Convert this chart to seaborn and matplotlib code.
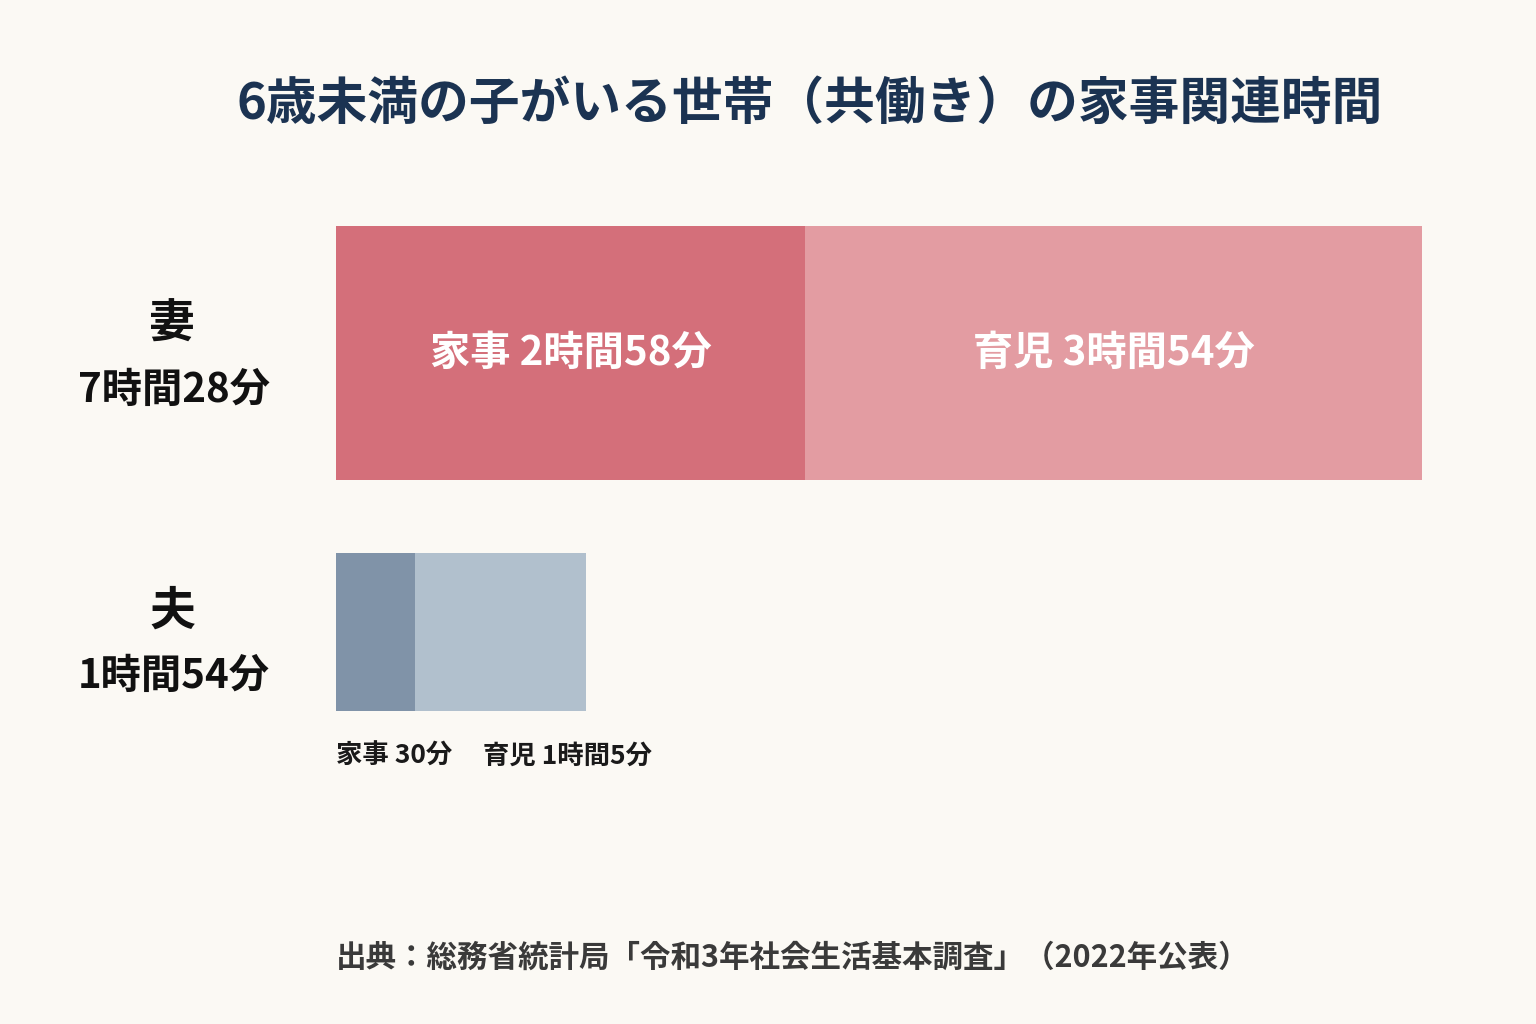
import matplotlib
matplotlib.use("Agg")
import matplotlib.pyplot as plt
import seaborn as sns
import pandas as pd

# ─────────────────────────────────────────────
# DATA (minutes per day)
# ─────────────────────────────────────────────
PERSONS      = ["妻", "夫"]
TOTAL_LABELS = ["7時間28分", "1時間54分"]
HOUSEWORK    = [178, 30]      # 家事
CHILDCARE    = [234, 65]      # 育児
HW_LABELS    = ["家事 2時間58分", "家事 30分"]
CC_LABELS    = ["育児 3時間54分", "育児 1時間5分"]

TITLE  = "6歳未満の子がいる世帯（共働き）の家事関連時間"
SOURCE = "出典：総務省統計局「令和3年社会生活基本調査」（2022年公表）"

BG      = "#FBF9F4"
HW_COL  = ["#D46F7A", "#8093A8"]
CC_COL  = ["#E39CA2", "#B1C0CD"]
NAVY    = "#1B3352"

sns.set_theme(style="white")
plt.rcParams["font.family"] = ["Noto Sans CJK JP", "DejaVu Sans"]

df = pd.DataFrame({
    "person": PERSONS,
    "housework": HOUSEWORK,
    "childcare": CHILDCARE,
})
df["total"] = df["housework"] + df["childcare"]

W, H = 1536, 1024
fig = plt.figure(figsize=(W / 100, H / 100), dpi=100)
fig.patch.set_facecolor(BG)

# axes: x 336..1422 px, y chosen so bar centres land at 353 / 632 px
ax_left, ax_right = 336, 1422
ax_top, ax_bot = 200, 740
ax = fig.add_axes([ax_left / W, 1 - ax_bot / H,
                   (ax_right - ax_left) / W, (ax_bot - ax_top) / H])
ax.set_facecolor(BG)

# stacked bars: total first, housework on top
sns.barplot(data=df, y="person", x="total", hue="person", saturation=1,
            palette=CC_COL, orient="h", legend=False, ax=ax, width=0.8)
sns.barplot(data=df, y="person", x="housework", hue="person", saturation=1,
            palette=HW_COL, orient="h", legend=False, ax=ax, width=0.8)

px_per_unit = 632 - 353
heights = [254 / px_per_unit, 158 / px_per_unit]
for p in ax.patches:
    yc = p.get_y() + p.get_height() / 2
    i = int(round(yc))
    p.set_height(heights[i])
    p.set_y(i - heights[i] / 2)
    p.set_edgecolor("none")

ax.set_xlim(0, df["total"].iloc[0])
top_u = (ax_top - 353) / px_per_unit
bot_u = (ax_bot - 353) / px_per_unit
ax.set_ylim(bot_u, top_u)
ax.axis("off")

# labels inside wife bar
hw0, cc0 = df["housework"].iloc[0], df["childcare"].iloc[0]
ax.text(hw0 / 2, 0, HW_LABELS[0], color="white", fontsize=29,
        fontweight="bold", ha="center", va="center")
ax.text(hw0 + cc0 / 2, 0, CC_LABELS[0], color="white", fontsize=29,
        fontweight="bold", ha="center", va="center")

# labels under husband bar
fig.text(336 / W, 1 - 756 / H, HW_LABELS[1],
         fontsize=19, fontweight="bold", color="#1a1a1a",
         ha="left", va="center")
fig.text(483 / W, 1 - 756 / H, CC_LABELS[1],
         fontsize=19, fontweight="bold", color="#1a1a1a",
         ha="left", va="center")

# person + total labels on the left (pixel rows)
name_rows = [325, 612]
total_rows = [390, 676]
for name, tot, yn, yt in zip(PERSONS, TOTAL_LABELS, name_rows, total_rows):
    fig.text(172 / W, 1 - yn / H, name, fontsize=33,
             fontweight="bold", color="#111111", ha="center", va="center")
    fig.text(174 / W, 1 - yt / H, tot, fontsize=29,
             fontweight="bold", color="#111111", ha="center", va="center")

fig.text(810 / W, 1 - 104 / H, TITLE, fontsize=36.5, fontweight="bold",
         color=NAVY, ha="center", va="center")
fig.text(336 / W, 1 - 958 / H, SOURCE, fontsize=22, fontweight="bold",
         color="#3a3a3a", ha="left", va="center")

fig.savefig("out.png", dpi=100, facecolor=BG)
